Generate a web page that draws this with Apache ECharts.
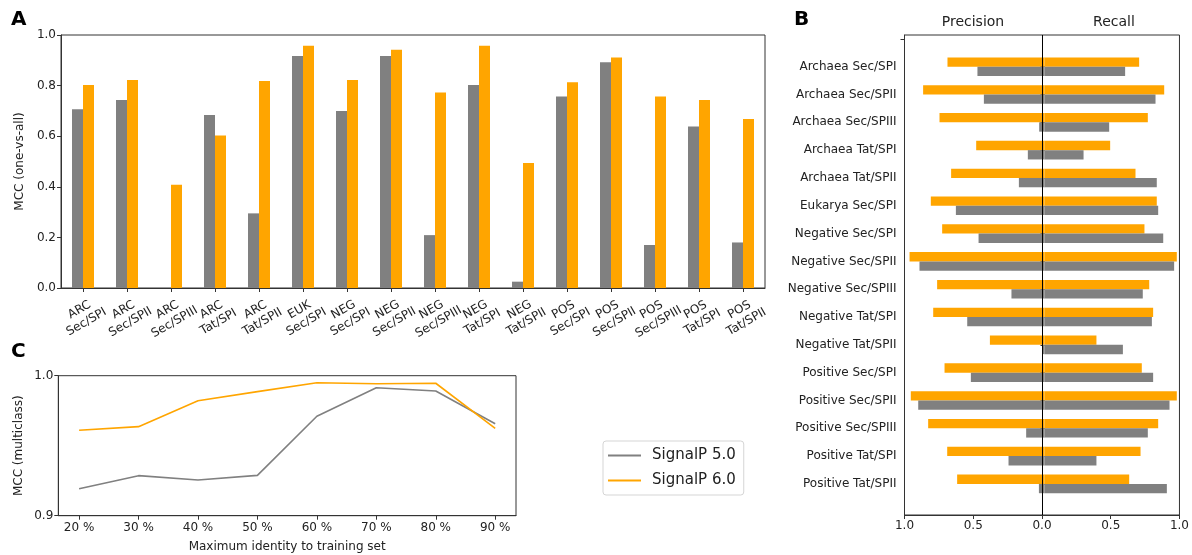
<!DOCTYPE html>
<html><head><meta charset="utf-8">
<script src="https://cdn.jsdelivr.net/npm/echarts@6/dist/echarts.min.js"></script>
<style>html,body{margin:0;padding:0;background:#fff}#c{width:1192px;height:555px}</style>
</head><body><div id="c"></div>
<script>
// Panel A
const catA = ['ARC\nSec/SPI','ARC\nSec/SPII','ARC\nSec/SPIII','ARC\nTat/SPI','ARC\nTat/SPII','EUK\nSec/SPI','NEG\nSec/SPI','NEG\nSec/SPII','NEG\nSec/SPIII','NEG\nTat/SPI','NEG\nTat/SPII','POS\nSec/SPI','POS\nSec/SPII','POS\nSec/SPIII','POS\nTat/SPI','POS\nTat/SPII'];
const mccA5 = [0.707,0.743,0,0.684,0.295,0.917,0.700,0.917,0.209,0.802,0.025,0.757,0.892,0.170,0.638,0.180];
const mccA6 = [0.802,0.822,0.408,0.603,0.818,0.958,0.822,0.942,0.773,0.958,0.494,0.813,0.911,0.757,0.743,0.668];
// Panel B
const catB = ['Archaea Sec/SPI','Archaea Sec/SPII','Archaea Sec/SPIII','Archaea Tat/SPI','Archaea Tat/SPII','Eukarya Sec/SPI','Negative Sec/SPI','Negative Sec/SPII','Negative Sec/SPIII','Negative Tat/SPI','Negative Tat/SPII','Positive Sec/SPI','Positive Sec/SPII','Positive Sec/SPIII','Positive Tat/SPI','Positive Tat/SPII'];
const prec6 = [0.693,0.867,0.750,0.488,0.667,0.812,0.731,0.964,0.767,0.795,0.390,0.714,0.955,0.831,0.695,0.624];
const rec6  = [0.676,0.855,0.738,0.469,0.650,0.802,0.714,0.945,0.748,0.776,0.371,0.695,0.945,0.812,0.686,0.605];
const prec5 = [0.479,0.433,0.038,0.119,0.183,0.633,0.471,0.893,0.236,0.552,0.014,0.526,0.902,0.131,0.257,0.040];
const rec5  = [0.576,0.793,0.462,0.279,0.802,0.812,0.848,0.926,0.702,0.767,0.560,0.776,0.893,0.738,0.371,0.874];
// Panel C
const identity = ['20 %','30 %','40 %','50 %','60 %','70 %','80 %','90 %'];
const mccC5 = [0.9193,0.9286,0.9255,0.9288,0.9710,0.9914,0.9891,0.9657];
const mccC6 = [0.9610,0.9636,0.9821,0.9886,0.9950,0.9943,0.9946,0.9624];
const seriesNames = ['SignalP 5.0','SignalP 6.0'];

const GRAY = '#808080', ORANGE = '#FFA500', INK = '#222', FRAME = '#333';
const FONT = 'DejaVu Sans';
const tick = {show:true, length:4, lineStyle:{color:FRAME, width:1}};
const lab = {color:INK, fontSize:12, fontFamily:FONT};

const chart = echarts.init(document.getElementById('c'), null, {renderer:'canvas'});
chart.setOption({
  animation:false,
  backgroundColor:'#fff',
  textStyle:{fontFamily:FONT},
  title:[
    {text:'A', left:11, top:10, padding:0, textStyle:{fontSize:20, fontWeight:'bold', color:'#000', fontFamily:FONT}},
    {text:'B', left:794, top:10, padding:0, textStyle:{fontSize:20, fontWeight:'bold', color:'#000', fontFamily:FONT}},
    {text:'C', left:11, top:342, padding:0, textStyle:{fontSize:20, fontWeight:'bold', color:'#000', fontFamily:FONT}},
    {text:'Precision', left:973, top:15, padding:0, textAlign:'center', textStyle:{fontSize:14, fontWeight:'normal', color:INK, fontFamily:FONT}},
    {text:'Recall', left:1114, top:15, padding:0, textAlign:'center', textStyle:{fontSize:14, fontWeight:'normal', color:INK, fontFamily:FONT}}
  ],
  legend:{
    data:seriesNames, orient:'vertical', left:603, top:441, icon:'rect',
    itemWidth:33, itemHeight:2, itemGap:10,
    padding:[7,8,7,5], borderColor:'#d5d5d5', borderWidth:1, borderRadius:3,
    textStyle:{fontSize:15, color:INK, fontFamily:FONT, padding:[0,0,0,6]}
  },
  grid:[
    {left:61, right:427, top:35, bottom:267, show:true, borderColor:FRAME, borderWidth:1},
    {left:904.5, right:7.5, top:52.8, bottom:57.2},
    {left:904.5, right:7.5, top:35, bottom:40, show:true, borderColor:FRAME, borderWidth:1},
    {left:58.3, right:676, top:375.7, bottom:39.3, show:true, borderColor:FRAME, borderWidth:1}
  ],
  xAxis:[
    {gridIndex:0, type:'category', data:catA, axisLine:{lineStyle:{color:FRAME}}, axisTick:Object.assign({alignWithLabel:true}, tick),
     axisLabel:Object.assign({interval:0, rotate:30, align:'center', verticalAlign:'middle', margin:28, lineHeight:14}, lab)},
    {gridIndex:1, type:'value', min:-1, max:1, show:false},
    {gridIndex:2, type:'value', min:-1, max:1, interval:0.5, axisLine:{onZero:false, lineStyle:{color:FRAME}}, axisTick:tick, splitLine:{show:false},
     axisLabel:Object.assign({margin:5, formatter:v=>Math.abs(v).toFixed(1)}, lab)},
    {gridIndex:3, type:'value', min:-0.35, max:7.35, axisLine:{onZero:false, lineStyle:{color:FRAME}}, splitLine:{show:false},
     axisTick:Object.assign({customValues:identity.map((_,i)=>i)}, tick),
     axisLabel:Object.assign({customValues:identity.map((_,i)=>i), margin:6, formatter:v=>identity[Math.round(v)]}, lab),
     name:'Maximum identity to training set', nameLocation:'middle', nameGap:25, nameTextStyle:Object.assign({}, lab)}
  ],
  yAxis:[
    {gridIndex:0, type:'value', min:0, max:1, interval:0.2, axisLine:{show:true, onZero:false, lineStyle:{color:FRAME}}, axisTick:tick, splitLine:{show:false},
     axisLabel:Object.assign({margin:5, formatter:v=>v.toFixed(1)}, lab),
     name:'MCC (one-vs-all)', nameLocation:'middle', nameGap:35, nameTextStyle:Object.assign({}, lab)},
    {gridIndex:1, type:'category', inverse:true, data:catB, axisLine:{show:false}, axisTick:Object.assign({alignWithLabel:true}, tick),
     axisLabel:Object.assign({margin:8}, lab)},
    {gridIndex:2, type:'value', inverse:true, min:-1.14, max:16.13, axisLine:{show:true, onZero:false, lineStyle:{color:FRAME}},
     axisTick:Object.assign({customValues:[-1]}, tick), axisLabel:{show:false}, splitLine:{show:false}},
    {gridIndex:3, type:'value', min:0.9, max:1.0, interval:0.1, axisLine:{show:true, onZero:false, lineStyle:{color:FRAME}}, axisTick:tick, splitLine:{show:false},
     axisLabel:Object.assign({margin:5, formatter:v=>v.toFixed(1)}, lab),
     name:'MCC (multiclass)', nameLocation:'middle', nameGap:33, nameTextStyle:Object.assign({}, lab)}
  ],
  series:[
    {name:'A ' + seriesNames[0], type:'bar', xAxisIndex:0, yAxisIndex:0, data:mccA5, itemStyle:{color:GRAY}, barGap:'0%', barCategoryGap:'50%'},
    {name:'A ' + seriesNames[1], type:'bar', xAxisIndex:0, yAxisIndex:0, data:mccA6, itemStyle:{color:ORANGE}, barGap:'0%', barCategoryGap:'50%'},
    {name:'B P6 precision', type:'bar', xAxisIndex:1, yAxisIndex:1, stack:'o', data:prec6.map(v=>-v), itemStyle:{color:ORANGE}, barGap:'0%', barCategoryGap:'33%'},
    {name:'B P6 recall', type:'bar', xAxisIndex:1, yAxisIndex:1, stack:'o', data:rec6, itemStyle:{color:ORANGE}, barGap:'0%', barCategoryGap:'33%'},
    {name:'B P5 precision', type:'bar', xAxisIndex:1, yAxisIndex:1, stack:'g', data:prec5.map(v=>-v), itemStyle:{color:GRAY}, barGap:'0%', barCategoryGap:'33%'},
    {name:'B P5 recall', type:'bar', xAxisIndex:1, yAxisIndex:1, stack:'g', data:rec5, itemStyle:{color:GRAY}, barGap:'0%', barCategoryGap:'33%'},
    {name:'zero', type:'line', xAxisIndex:2, yAxisIndex:2, data:[], silent:true,
     markLine:{silent:true, symbol:'none', label:{show:false}, lineStyle:{color:'#000', width:1, type:'solid'}, data:[{xAxis:0}]}, z:5},
    {name:seriesNames[0], type:'line', xAxisIndex:3, yAxisIndex:3, data:mccC5.map((v,i)=>[i,v]), symbol:'none', lineStyle:{color:GRAY, width:1.6}, itemStyle:{color:GRAY}},
    {name:seriesNames[1], type:'line', xAxisIndex:3, yAxisIndex:3, data:mccC6.map((v,i)=>[i,v]), symbol:'none', lineStyle:{color:ORANGE, width:1.6}, itemStyle:{color:ORANGE}}
  ]
});
</script></body></html>
